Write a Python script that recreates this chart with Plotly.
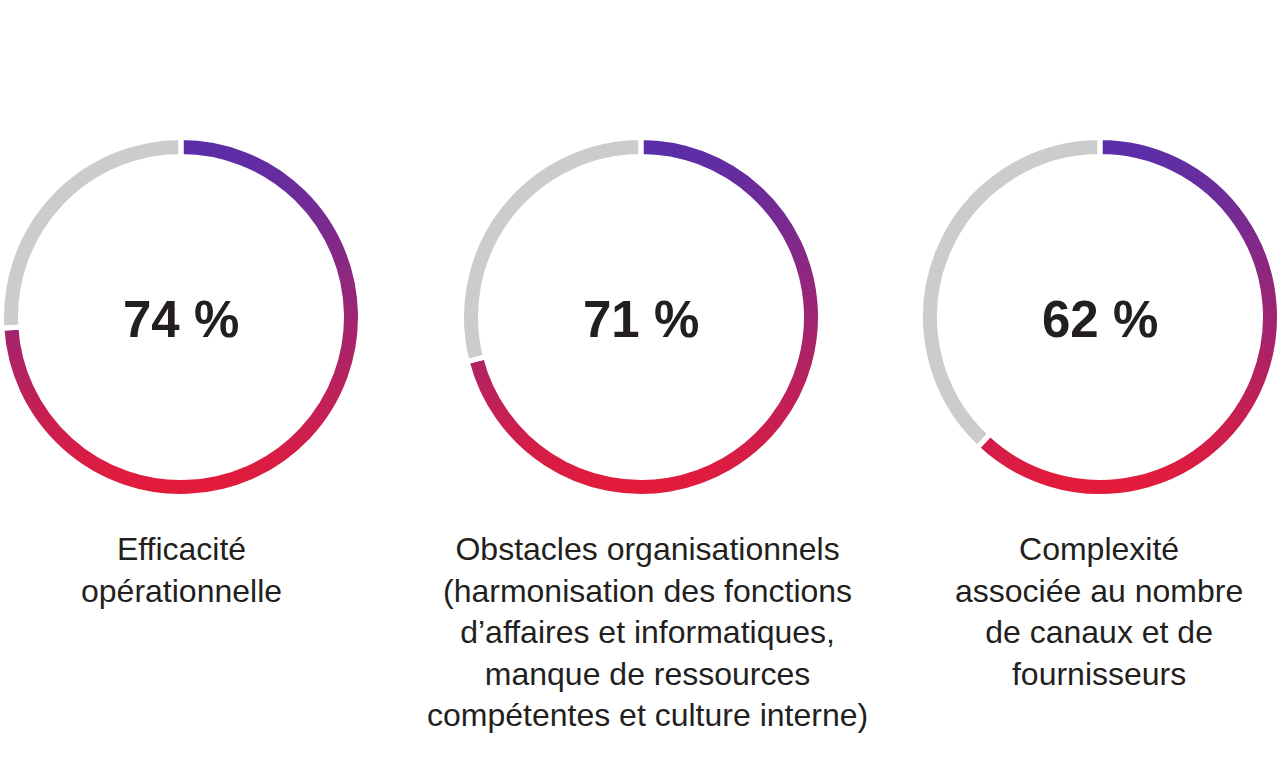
import plotly.graph_objects as go
import numpy as np

values = [74, 71, 62]
center_labels = ["74 %", "71 %", "62 %"]
captions = [
    "Efficacité<br>opérationnelle",
    "Obstacles organisationnels<br>(harmonisation des fonctions<br>d’affaires et informatiques,<br>manque de ressources<br>compétentes et culture interne)",
    "Complexité<br>associée au nombre<br>de canaux et de<br>fournisseurs",
]

W, H = 1280, 784
centers_x = [181, 641, 1100]
center_y = 317
label_x = [181, 647, 1099]
R_vis_out = 177
R_vis_in = 163
gap = 5

PURPLE = np.array([0x5a, 0x2e, 0xa8])
RED = np.array([0xe3, 0x1b, 0x3b])
GREY = "#cccccc"

fig = go.Figure()

R_out = R_vis_out + gap / 2
R_in = R_vis_in - gap / 2
hole = R_in / R_out
N = 120

for i, v in enumerate(values):
    cx = centers_x[i]
    dom_x = [(cx - R_out) / W, (cx + R_out) / W]
    dom_y = [1 - (center_y + R_out) / H, 1 - (center_y - R_out) / H]
    # gradient styling: split the value slice into thin sub-slices coloured by height
    sub = [v / N] * N
    cols = []
    for k in range(N):
        theta = np.deg2rad((k + 0.5) / N * v / 100 * 360)
        t = (1 - np.cos(theta)) / 2
        c = PURPLE + (RED - PURPLE) * t
        cols.append("rgb(%d,%d,%d)" % tuple(c.round().astype(int)))
    fig.add_trace(go.Pie(
        values=sub + [100 - v],
        marker=dict(colors=cols + [GREY], line=dict(width=1, color=cols + [GREY])),
        hole=hole, sort=False, direction="clockwise", rotation=0,
        textinfo="none", hoverinfo="skip", showlegend=False,
        domain=dict(x=dom_x, y=dom_y),
    ))
    # overlay for white separators
    fig.add_trace(go.Pie(
        values=[v, 100 - v],
        marker=dict(colors=["rgba(0,0,0,0)", "rgba(0,0,0,0)"], line=dict(color="white", width=gap)),
        hole=hole, sort=False, direction="clockwise", rotation=0,
        textinfo="none", hoverinfo="skip", showlegend=False,
        domain=dict(x=dom_x, y=dom_y),
    ))
    fig.add_annotation(
        x=cx / W, y=1 - 319 / H, xref="paper", yref="paper",
        text="<b>%s</b>" % center_labels[i], showarrow=False,
        xanchor="center", yanchor="middle",
        font=dict(family="Liberation Sans, Arial, sans-serif", size=51, color="#231f20"),
    )
    fig.add_annotation(
        x=label_x[i] / W, y=1 - 528.5 / H, xref="paper", yref="paper",
        text=captions[i], showarrow=False, align="center",
        xanchor="center", yanchor="top",
        font=dict(family="Liberation Sans, Arial, sans-serif", size=32, color="#231f20"),
    )

fig.update_layout(
    width=W, height=H, margin=dict(l=0, r=0, t=0, b=0),
    paper_bgcolor="white", plot_bgcolor="white",
)
fig.write_html("out.html", config={"displayModeBar": False},
               post_script="document.body.style.margin='0';")
